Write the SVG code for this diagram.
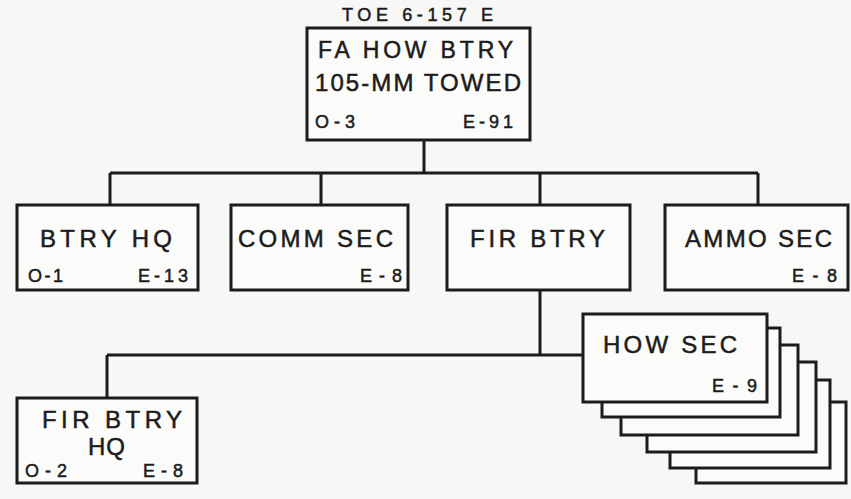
<svg xmlns="http://www.w3.org/2000/svg" width="851" height="499" viewBox="0 0 851 499">
<style>
.box{fill:#fbfbf9;stroke:#1c1c1c;stroke-width:3}
.ln{fill:none;stroke:#1c1c1c;stroke-width:3}
text{font-family:"Liberation Sans",Arial,sans-serif;fill:#1c1c1c;stroke:#1c1c1c;stroke-width:0.5}
.big{font-size:24px}
.sm{font-size:18px}
</style>
<rect width="851" height="499" fill="#f7f7f5"/>
<g id="connectors">
<path class="ln" d="M424 140V173M110 173H758M110 173V205M321 173V205M540 173V205M758 173V205M540 290V355M107 355H583M107 355V398"/>
</g>
<g id="title"><text x="342" y="21" font-size="18" textLength="151" lengthAdjust="spacing">TOE 6-157 E</text></g>
<g id="fa-how-btry">
<rect class="box" x="307" y="28" width="223" height="112"/>
<text x="318" y="58" font-size="23" textLength="195" lengthAdjust="spacing">FA HOW BTRY</text>
<text x="315" y="91" font-size="24" textLength="206" lengthAdjust="spacing">105-MM TOWED</text>
<text class="sm" x="315" y="128" textLength="40" lengthAdjust="spacing">O-3</text>
<text class="sm" x="463" y="128" textLength="50" lengthAdjust="spacing">E-91</text>
</g>
<g id="btry-hq">
<rect class="box" x="17" y="205" width="181" height="85"/>
<text class="big" x="40" y="247" textLength="132" lengthAdjust="spacing">BTRY HQ</text>
<text class="sm" x="28" y="282" textLength="35" lengthAdjust="spacing">O-1</text>
<text class="sm" x="138" y="282" textLength="50" lengthAdjust="spacing">E-13</text>
</g>
<g id="comm-sec">
<rect class="box" x="231" y="205" width="177" height="85"/>
<text class="big" x="238" y="247" textLength="155" lengthAdjust="spacing">COMM SEC</text>
<text class="sm" x="360" y="282" textLength="42" lengthAdjust="spacing">E-8</text>
</g>
<g id="fir-btry">
<rect class="box" x="447" y="205" width="183" height="85"/>
<text class="big" x="470" y="247" textLength="135" lengthAdjust="spacing">FIR BTRY</text>
</g>
<g id="ammo-sec">
<rect class="box" x="665" y="205" width="183" height="85"/>
<text class="big" x="685" y="247" textLength="147" lengthAdjust="spacing">AMMO SEC</text>
<text class="sm" x="792" y="282" textLength="45" lengthAdjust="spacing">E-8</text>
</g>
<g id="how-sec">
<rect class="box" x="696" y="402" width="150" height="81"/>
<rect class="box" x="670" y="380" width="160" height="88"/>
<rect class="box" x="647" y="362" width="169" height="90"/>
<rect class="box" x="621" y="345" width="177" height="90"/>
<rect class="box" x="602" y="328" width="178" height="89"/>
<rect class="box" x="583" y="314" width="184" height="88"/>
<text class="big" x="603" y="353" textLength="134" lengthAdjust="spacing">HOW SEC</text>
<text class="sm" x="712" y="392" textLength="45" lengthAdjust="spacing">E-9</text>
</g>
<g id="fir-btry-hq">
<rect class="box" x="17" y="398" width="180" height="85"/>
<text class="big" x="42" y="428" textLength="140" lengthAdjust="spacing">FIR BTRY</text>
<text class="big" x="88" y="455" textLength="37" lengthAdjust="spacing">HQ</text>
<text class="sm" x="25" y="477" textLength="42" lengthAdjust="spacing">O-2</text>
<text class="sm" x="143" y="477" textLength="40" lengthAdjust="spacing">E-8</text>
</g>
</svg>
